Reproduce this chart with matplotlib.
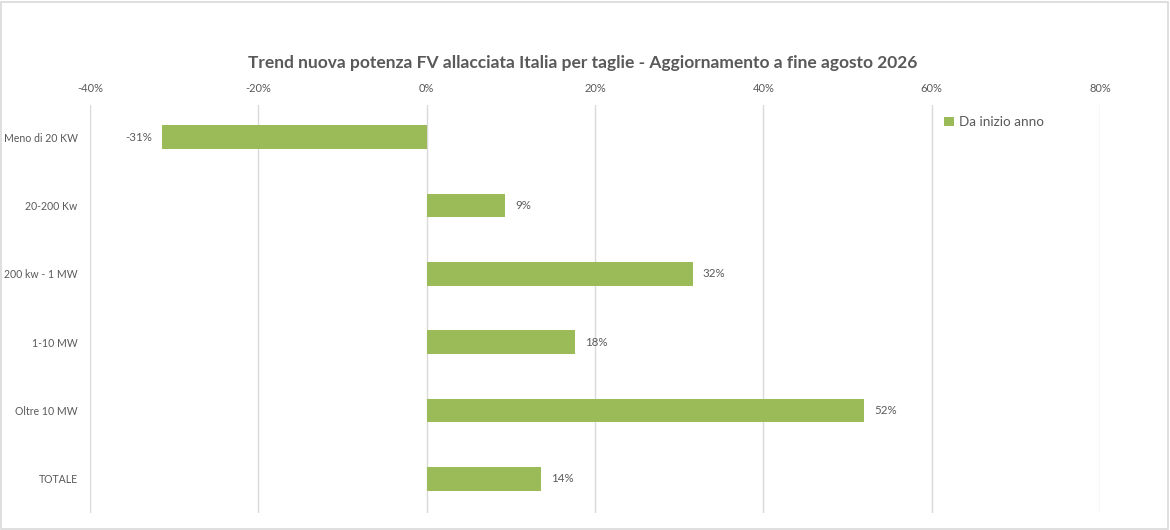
import matplotlib
matplotlib.use("Agg")
import matplotlib.pyplot as plt
from matplotlib.patches import Rectangle

categories = ["Meno di 20 KW", "20-200 Kw", "200 kw - 1 MW", "1-10 MW", "Oltre 10 MW", "TOTALE"]
values = [-31.4, 9.3, 31.6, 17.6, 52.0, 13.6]
xticks = [-40, -20, 0, 20, 40, 60, 80]
title = "Trend nuova potenza FV allacciata Italia per taglie - Aggiornamento a fine agosto 2026"
series_name = "Da inizio anno"

plt.rcParams['font.family'] = ['Lato', 'DejaVu Sans']
gray = "#595959"
green = "#9BBB59"

fig = plt.figure(figsize=(11.7, 5.3), dpi=100)
fig.patches.append(Rectangle((0.001, 0.002), 0.997, 0.995, transform=fig.transFigure,
                             fill=False, edgecolor="#D9D9D9", linewidth=1.2))
ax = fig.add_axes([90/1170, 1-513/530, (1100-90)/1170, (513-105)/530])

ypos = list(range(len(categories)))
ax.barh(ypos, values, height=0.35, color=green, label=series_name, zorder=3)
for y, v in zip(ypos, values):
    if v < 0:
        ax.text(v - 1.2, y, f"{v:.0f}%", ha="right", va="center", fontsize=8.3, color=gray)
    else:
        ax.text(v + 1.2, y, f"{v:.0f}%", ha="left", va="center", fontsize=8.3, color=gray)

ax.set_xlim(-40, 80)
ax.set_ylim(5.5, -0.47)
ax.set_xticks(xticks)
ax.set_xticklabels([f"{t}%" for t in xticks])
ax.xaxis.tick_top()
ax.set_yticks(ypos)
ax.set_yticklabels(categories)
ax.tick_params(axis="x", length=0, labelsize=8, labelcolor=gray, pad=8)
ax.tick_params(axis="y", length=0, labelsize=7.6, labelcolor=gray, pad=9)
for s in ax.spines.values():
    s.set_visible(False)
ax.grid(axis="x", color="#D9D9D9", linewidth=1, zorder=0)
ax.set_axisbelow(True)

leg = ax.legend(loc="center left", bbox_to_anchor=(0.834, 0.958), frameon=True, fontsize=9.7,
                handlelength=0.7, handleheight=0.7, handletextpad=0.4, borderpad=0.4,
                labelcolor=gray)
leg.get_frame().set_edgecolor("none")
leg.get_frame().set_facecolor("white")
leg.set_zorder(5)

fig.text(583/1170, 1-63/530, title, ha="center", va="center", fontsize=12.5,
         fontweight="bold", color=gray)

fig.savefig("out.png", dpi=100, facecolor="white")
